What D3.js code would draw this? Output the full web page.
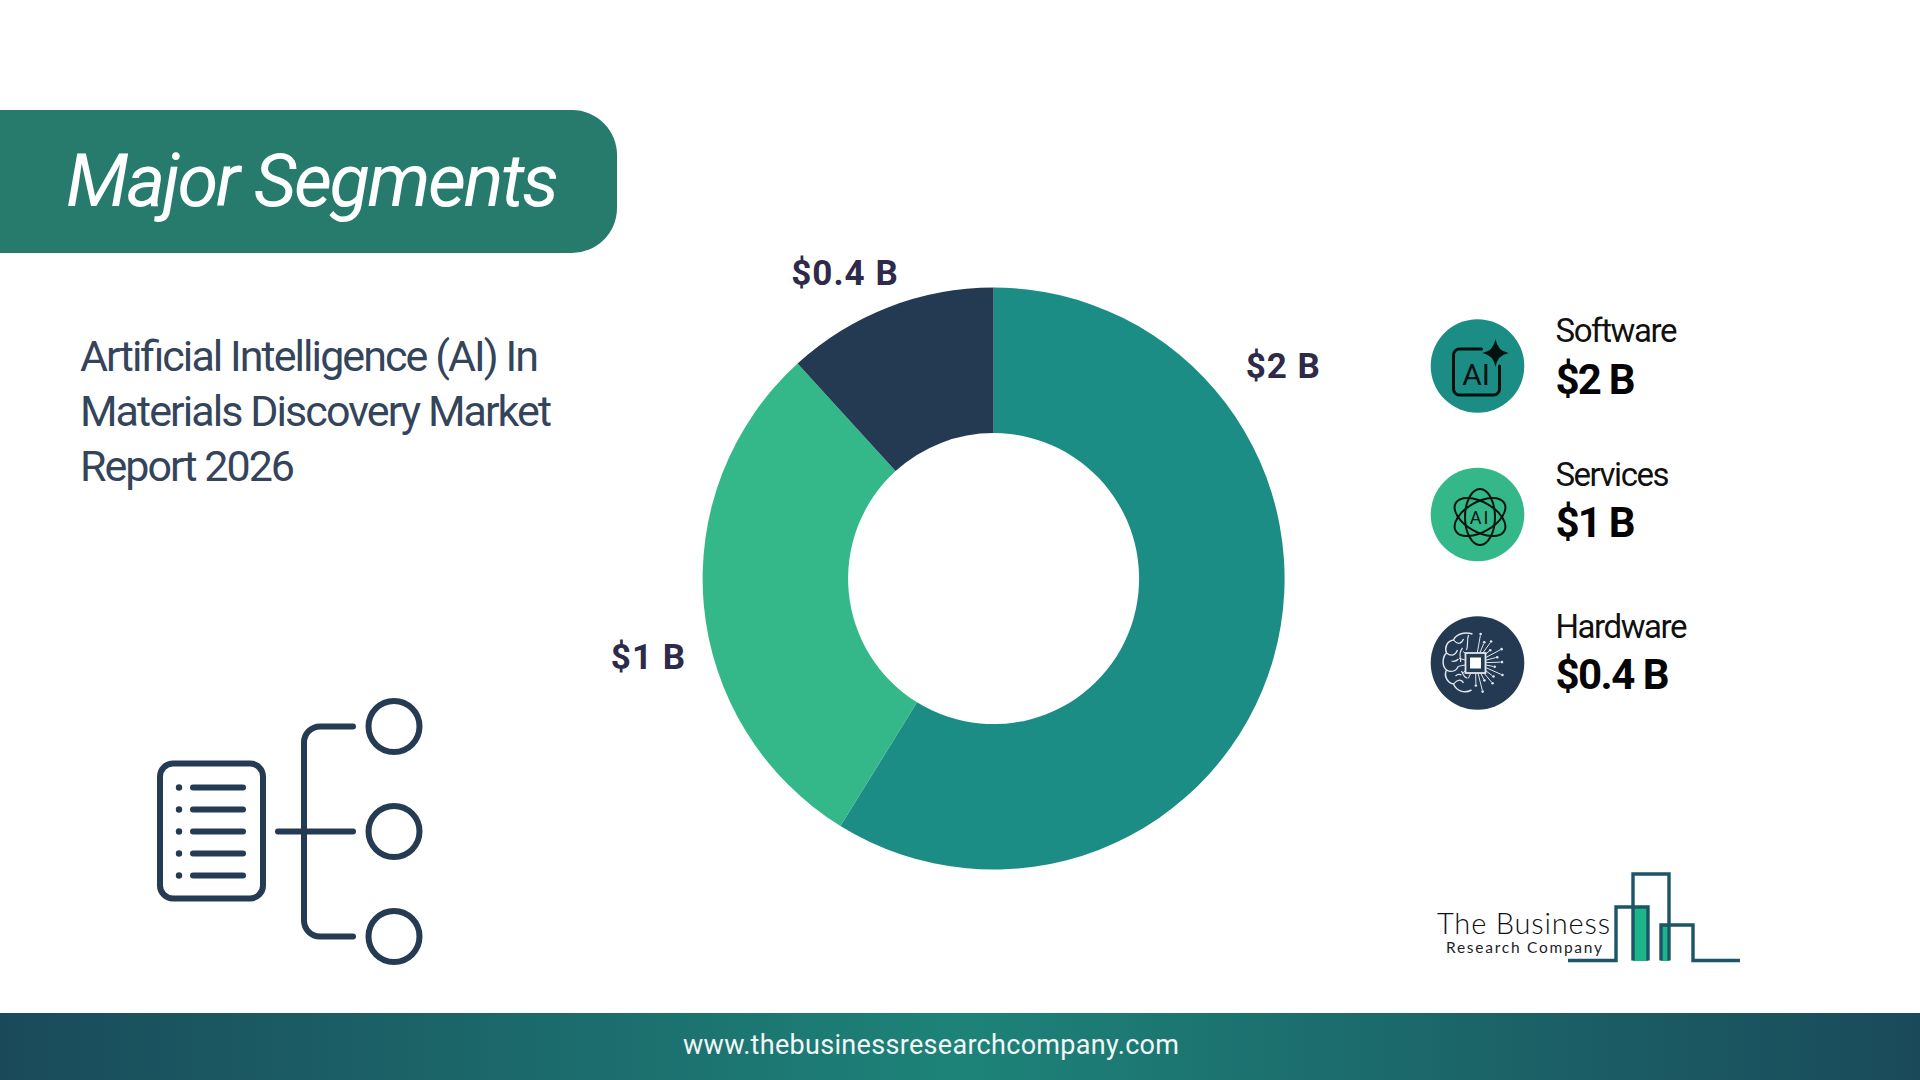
<!DOCTYPE html>
<html>
<head>
<meta charset="utf-8">
<title>Major Segments</title>
<script src="https://cdn.jsdelivr.net/npm/d3@7/dist/d3.min.js"></script>
<style>
  html, body { margin: 0; padding: 0; background: #fff; }
  svg { display: block; }
  text { font-family: Roboto, sans-serif; }
</style>
</head>
<body>
<svg id="chart"></svg>
<script>
// chart data
const categories = ["Software", "Services", "Hardware"];
const values = [2, 1, 0.4];
const valueLabels = ["$2 B", "$1 B", "$0.4 B"];
const titleLines = ["Artificial Intelligence (AI) In", "Materials Discovery Market", "Report 2026"];

const sliceColors = ["#1c8d85", "#34b889", "#243a52"];
const navy = "#243b53";
const width = 1920;
const height = 1080;

const svg = d3.select("#chart").attr("width", width).attr("height", height);
const defs = svg.append("defs");

// text helper, textLength keeps the width the same as the picture
function addText(parent, str, x, y, size, fill, weight, len, style) {
  const t = parent.append("text")
    .attr("x", x)
    .attr("y", y)
    .attr("font-size", size)
    .attr("font-weight", weight)
    .attr("fill", fill)
    .text(str);
  if (len) t.attr("textLength", len).attr("lengthAdjust", "spacing");
  if (style) t.attr("font-style", style);
  return t;
}

// header banner, square on the left and rounded on the right
svg.append("path")
  .attr("d", "M0,110H572A45,45 0 0 1 617,155V208A45,45 0 0 1 572,253H0Z")
  .attr("fill", "#267b6c");
addText(svg, "Major Segments", 66, 206, 74, "#fff", 400, 493, "italic");

// report title
const lineY = d3.scalePoint().domain(d3.range(titleLines.length)).range([371, 481]);
titleLines.forEach((line, i) => {
  addText(svg, line, 80, lineY(i), 43, "#33445b", 400, [459, 472, 215][i]);
});

// donut
const cx = 993.6;
const cy = 578.6;
const pie = d3.pie().sort(null).value(d => d);
const arc = d3.arc().innerRadius(145.5).outerRadius(291);
const donut = svg.append("g").attr("transform", `translate(${cx},${cy})`);

donut.selectAll("path")
  .data(pie(values))
  .enter()
  .append("path")
  .attr("d", arc)
  .attr("fill", (d, i) => sliceColors[i]);

const labelAngles = [53.8, 257.2, 334];
const labelRadius = [359, 354, 339];
const labelPoint = i => d3.pointRadial(labelAngles[i] * Math.PI / 180, labelRadius[i]);
donut.selectAll("text")
  .data(valueLabels)
  .enter()
  .append("text")
  .attr("x", (d, i) => labelPoint(i)[0])
  .attr("y", (d, i) => labelPoint(i)[1])
  .attr("text-anchor", "middle")
  .attr("dominant-baseline", "central")
  .attr("font-size", 35)
  .attr("font-weight", 700)
  .attr("letter-spacing", 1)
  .attr("fill", "#2d2a4a")
  .text(d => d);

// legend rows
const rowY = d3.scalePoint().domain(categories).range([366, 663]);
const rows = svg.selectAll(".legend-row")
  .data(categories)
  .enter()
  .append("g")
  .attr("class", "legend-row")
  .attr("transform", d => `translate(1477.5,${rowY(d)})`);

rows.append("circle")
  .attr("r", 46.8)
  .attr("fill", (d, i) => sliceColors[i]);

const nameWidths = [122, 114, 132];
const valueWidths = [80, 80, 114];
const nameBase = [-24, -29, -25];
const valueBase = [28, 22, 26];
rows.each(function(d, i) {
  const g = d3.select(this);
  addText(g, d, 78, nameBase[i], 33, "#111", 400, nameWidths[i]);
  addText(g, valueLabels[i], 78, valueBase[i], 42, "#050505", 700, valueWidths[i]);
});

// software icon: framed AI with a sparkle
const softIcon = rows.filter((d, i) => i === 0);
softIcon.append("path")
  .attr("d", "M4,-17H-18A6,6 0 0 0 -24,-11V23A6,6 0 0 0 -18,29H16A6,6 0 0 0 22,23V0")
  .attr("fill", "none")
  .attr("stroke", "#04110f")
  .attr("stroke-width", 3)
  .attr("stroke-linecap", "round");
softIcon.append("path")
  .attr("d", "M18,-27Q20,-15 31,-13Q20,-11 18,1Q16,-11 5,-13Q16,-15 18,-27Z")
  .attr("fill", "#04110f");
softIcon.append("text")
  .attr("y", 19)
  .attr("x", -1.5)
  .attr("text-anchor", "middle")
  .attr("font-size", 30)
  .attr("fill", "#04110f")
  .text("AI");

// services icon: atom orbits round AI
const atomIcon = rows.filter((d, i) => i === 1).append("g").attr("transform", "translate(2.5,2.5)");
[30, -30, 90].forEach(angle => {
  atomIcon.append("ellipse")
    .attr("rx", 28)
    .attr("ry", 15)
    .attr("transform", `rotate(${angle})`)
    .attr("fill", "none")
    .attr("stroke", "#04140f")
    .attr("stroke-width", 2);
});
atomIcon.append("text")
  .attr("y", 6.5)
  .attr("text-anchor", "middle")
  .attr("font-size", 18)
  .attr("letter-spacing", 2)
  .attr("fill", "#04140f")
  .text("AI");

// hardware icon: brain on the left, circuit traces on the right
const chipIcon = rows.filter((d, i) => i === 2).append("g").attr("transform", "translate(-2,0)");
const chipLine = "#dfe6ee";
chipIcon.append("path")
  .attr("d", "M-3,-29C-12,-32 -20,-28 -22,-23C-29,-22 -31,-15 -29,-10C-34,-5 -33,4 -29,7C-32,13 -28,20 -22,21C-19,28 -11,31 -4,27")
  .attr("fill", "none")
  .attr("stroke", chipLine)
  .attr("stroke-width", 1.5);
chipIcon.append("path")
  .attr("d", "M-22,-23C-18,-18 -14,-19 -12,-24M-29,-10C-24,-6 -20,-8 -18,-13M-29,7C-24,10 -19,8 -17,3M-22,21C-18,16 -14,16 -12,20M-13,-15C-18,-9 -14,-5 -15,-1M-14,8C-12,13 -10,15 -8,15M-24,-2C-21,-1 -19,-2 -17,-4M-20,13C-18,11 -16,11 -14,12M-7,-28C-9,-22 -7,-18 -9,-13")
  .attr("fill", "none")
  .attr("stroke", chipLine)
  .attr("stroke-width", 1.2);
d3.range(-80, 100, 13).forEach((a, i) => {
  const rad = a * Math.PI / 180;
  const len = [28, 21, 25, 18][i % 4];
  chipIcon.append("line")
    .attr("x1", 9 * Math.cos(rad))
    .attr("y1", 9 * Math.sin(rad))
    .attr("x2", len * Math.cos(rad))
    .attr("y2", len * Math.sin(rad))
    .attr("stroke", chipLine)
    .attr("stroke-width", 1);
  chipIcon.append("circle")
    .attr("cx", (len + 1.5) * Math.cos(rad))
    .attr("cy", (len + 1.5) * Math.sin(rad))
    .attr("r", 1.3)
    .attr("fill", chipLine);
});
d3.range(115, 250, 27).forEach(a => {
  const rad = a * Math.PI / 180;
  chipIcon.append("line")
    .attr("x1", 9 * Math.cos(rad))
    .attr("y1", 9 * Math.sin(rad))
    .attr("x2", 17 * Math.cos(rad))
    .attr("y2", 17 * Math.sin(rad))
    .attr("stroke", chipLine)
    .attr("stroke-width", 1);
});
chipIcon.append("rect").attr("x", -10).attr("y", -10).attr("width", 20).attr("height", 20)
  .attr("fill", navy).attr("stroke", chipLine).attr("stroke-width", 1.8);
chipIcon.append("rect").attr("x", -5.5).attr("y", -5.5).attr("width", 11).attr("height", 11)
  .attr("fill", "#fff");

// segments icon, bottom left
const treeIcon = svg.append("g")
  .attr("fill", "none")
  .attr("stroke", navy)
  .attr("stroke-width", 6)
  .attr("stroke-linecap", "round");
treeIcon.append("rect")
  .attr("x", 160).attr("y", 763.5).attr("width", 103).attr("height", 135).attr("rx", 13);
const listY = d3.range(5).map(i => 787.5 + i * 22);
listY.forEach(y => {
  treeIcon.append("line").attr("x1", 193).attr("x2", 243).attr("y1", y).attr("y2", y);
  treeIcon.append("circle").attr("cx", 179).attr("cy", y).attr("r", 3.2)
    .attr("fill", navy).attr("stroke", "none");
});
treeIcon.append("path").attr("d", "M353,726.5H320A16,16 0 0 0 304,742.5V920.5A16,16 0 0 0 320,936.5H353");
treeIcon.append("line").attr("x1", 278).attr("x2", 353).attr("y1", 831.5).attr("y2", 831.5);
[726.5, 831.5, 936.5].forEach(y => {
  treeIcon.append("circle").attr("cx", 394).attr("cy", y).attr("r", 25.5);
});

// company logo
const logo = svg.append("g");
logo.append("rect").attr("x", 1633).attr("y", 908).attr("width", 15).attr("height", 53).attr("fill", "#1fb58a");
logo.append("rect").attr("x", 1661).attr("y", 925).attr("width", 8).attr("height", 36).attr("fill", "#1fb58a");
logo.append("path")
  .attr("d", "M1568,960.5H1616V907H1648V960.5M1633,960.5V874H1669V960.5M1661,960.5V925H1693V960.5H1740")
  .attr("fill", "none")
  .attr("stroke", "#1c5566")
  .attr("stroke-width", 3.4);
addText(logo, "The Business", 1437, 934, 29, "#0c1014", 300, 173).style("font-family", "Lato, sans-serif");
addText(logo, "Research Company", 1446, 953, 15.5, "#1d2228", 400, 156).style("font-family", "Lato, sans-serif");

// footer band
const footGrad = defs.append("linearGradient").attr("id", "footGrad");
footGrad.append("stop").attr("offset", "0%").attr("stop-color", "#1a4a5a");
footGrad.append("stop").attr("offset", "50%").attr("stop-color", "#1d8379");
footGrad.append("stop").attr("offset", "100%").attr("stop-color", "#1a4a5a");
svg.append("rect")
  .attr("x", 0).attr("y", 1013).attr("width", width).attr("height", 67)
  .attr("fill", "url(#footGrad)");
addText(svg, "www.thebusinessresearchcompany.com", 683, 1054, 27, "#f2f6f6", 400, 496);
</script>
</body>
</html>
